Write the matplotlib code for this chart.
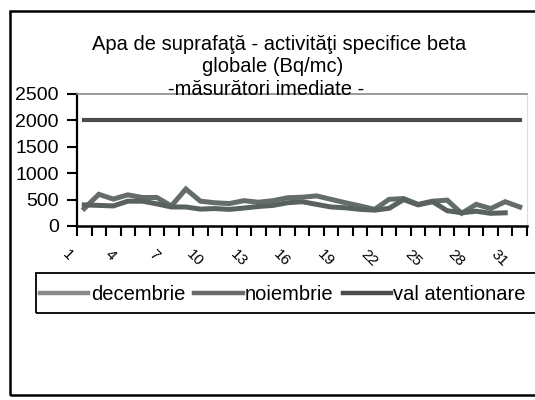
import matplotlib
matplotlib.use("Agg")
import matplotlib.pyplot as plt
import matplotlib.transforms as mtransforms
from matplotlib.patches import Rectangle

plt.rcParams['font.family'] = ['Liberation Sans', 'DejaVu Sans']

days = list(range(1, 32))
decembrie = [330, 600, 510, 590, 540, 540, 380, 700, 470, 440,
             425, 480, 450, 480, 535, 545, 570, 505, 440, 380,
             315, 505, 520, 410, 470, 490, 240, 410, 330, 460, 360]
noiembrie = [400, 390, 380, 470, 470, 420, 360, 360, 320, 330,
             315, 340, 370, 390, 440, 460, 410, 360, 345, 315,
             300, 335, 500, 400, 460, 290, 250, 280, 240, 250]
val_atentionare = [2000] * 31
tick_days = list(range(1, 32, 3))
y_ticks = [0, 500, 1000, 1500, 2000, 2500]

W, H = 535, 400
fig = plt.figure(figsize=(W / 100, H / 100), dpi=100)
ax = fig.add_axes([77 / W, 1 - 226 / H, 450 / W, 132 / H])

ax.plot(days, decembrie, color='#646d6a', lw=3.6, solid_joinstyle='miter')
ax.plot(days[:30], noiembrie, color='#59625f', lw=3.6, solid_joinstyle='miter')
ax.plot(days, val_atentionare, color='#4c4c4c', lw=3.0)

ax.set_xlim(0.5, 31.5)
ax.set_ylim(0, 2500)
ax.set_yticks(y_ticks)
ax.set_xticks(tick_days)
ax.set_xticks([d + 0.5 for d in range(0, 32)], minor=True)
ax.tick_params(axis='x', which='major', length=0, pad=15, labelsize=11)
ax.tick_params(axis='x', which='minor', length=7, width=1.5, direction='out')
ax.tick_params(axis='y', length=7, width=1.5, direction='out', pad=6, labelsize=14)

offset = mtransforms.ScaledTranslation(-9 / 100, 0, fig.dpi_scale_trans)
for lab in ax.get_xticklabels():
    lab.set_rotation(-45)
    lab.set_ha('right')
    lab.set_va('top')
    lab.set_transform(lab.get_transform() + offset)

ax.spines['left'].set_linewidth(1.6)
ax.spines['bottom'].set_linewidth(1.8)
ax.spines['top'].set_color('#8a8a8a')
ax.spines['top'].set_linewidth(1.2)
ax.spines['right'].set_color('#dddddd')
ax.spines['right'].set_linewidth(0.8)

fig.text(279 / W, 1 - 50 / H, "Apa de suprafaţă - activităţi specifice beta",
         ha='center', va='baseline', fontsize=14.5)
fig.text(273 / W, 1 - 72 / H, "globale (Bq/mc)",
         ha='center', va='baseline', fontsize=14.5)
fig.text(266 / W, 1 - 95 / H, "-măsurători imediate -",
         ha='center', va='baseline', fontsize=14.5)

handles = [plt.Line2D([], [], color='#8a8a8a', lw=3.2),
           plt.Line2D([], [], color='#6a6a6a', lw=3.2),
           plt.Line2D([], [], color='#4c4c4c', lw=3.2)]
fig.legend(handles, ['decembrie', 'noiembrie', 'val atentionare'],
           loc='center left', bbox_to_anchor=(40 / W, 1 - 295 / H), ncol=3,
           frameon=False, fontsize=14.5, handlelength=2.4, handletextpad=0.12,
           columnspacing=0.45, borderaxespad=0, borderpad=0)

# legend box and outer chart frame (right side runs off the scan)
fig.patches.append(Rectangle((36 / W, 1 - 313 / H), 600 / W, 40 / H, fill=False,
                             lw=1.3, ec='black', transform=fig.transFigure))
fig.patches.append(Rectangle((10 / W, 1 - 395 / H), 600 / W, 384 / H, fill=False,
                             lw=1.8, ec='black', transform=fig.transFigure))

fig.savefig('out.png', dpi=100)
